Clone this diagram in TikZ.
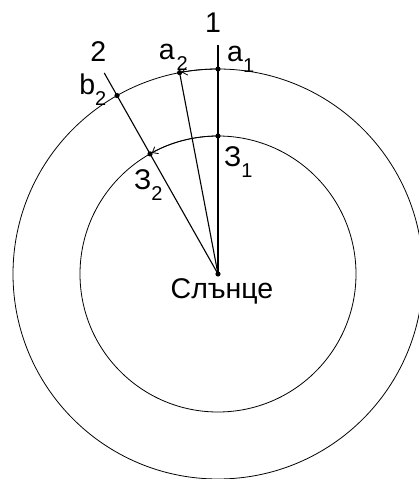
\documentclass[tikz,border=0pt]{standalone}
\usepackage{fontspec}
\setmainfont{Liberation Sans}
\usetikzlibrary{arrows.meta, positioning}

\newcommand{\lowidx}[1]{\raisebox{-11pt}{\fontsize{20}{20}\selectfont #1}}

\begin{document}
\begin{tikzpicture}[
    x=1pt, y=1pt,
    >={Straight Barb[length=5pt, width=8pt]},
    every node/.style={font=\fontsize{28.5}{32}\selectfont, inner sep=0pt}
]

\tikzset{
    orbit/.style={draw=black, line width=0.8pt},
    ray/.style={draw=black, line width=1.1pt},
    motion/.style={->, line width=0.8pt, shorten >=2pt},
    dotmark/.style={fill=black},
    lbl/.style={anchor=base west}
}

\useasboundingbox (-218,-205) rectangle (200,274);

\coordinate (sun) at (0,0);
\coordinate (a1) at (90:205);
\coordinate (a2) at (100.8:205);
\coordinate (b2) at (119.5:205);
\coordinate (z1) at (90:138);
\coordinate (z2) at (119.5:138);
\coordinate (end1) at (90:229);
\coordinate (end2) at (119.5:231);

% orbits
\draw [orbit] (sun) circle [radius=205];
\draw [orbit] (sun) circle [radius=138];

% rays from the Sun
\draw [ray] (sun) -- (end1);
\draw [ray] (sun) -- (a2);
\draw [ray] (sun) -- (end2);

% motion along the orbits
\draw [motion] (a1) arc [start angle=90, end angle=100.8, radius=205];
\draw [motion] (z1) arc [start angle=90, end angle=119.5, radius=138];

\foreach \p in {sun, a1, a2, b2, z1, z2}
    \fill [dotmark] (\p) circle (2.6pt);

\node [anchor=base] (l1) at ([shift={(-5,12)}]end1) {1};
\node [anchor=base] (l2) at ([shift={(-6,11)}]end2) {2};
\node [lbl] (la1) at ([shift={(9,7)}]a1) {a\lowidx{1}};
\node [lbl] (la2) at ([shift={(-21,13)}]a2) {a\kern2pt\lowidx{2}};
\node [lbl] (lb2) at ([shift={(-38,1)}]b2) {b\lowidx{2}};
\node [lbl] (lz1) at ([shift={(6,-31)}]z1) {З\lowidx{1}};
\node [lbl] (lz2) at ([shift={(-16,-36)}]z2) {З\lowidx{2}};
\node [anchor=base] (lsun) at ([shift={(4,-24)}]sun) {Слънце};

\end{tikzpicture}
\end{document}
